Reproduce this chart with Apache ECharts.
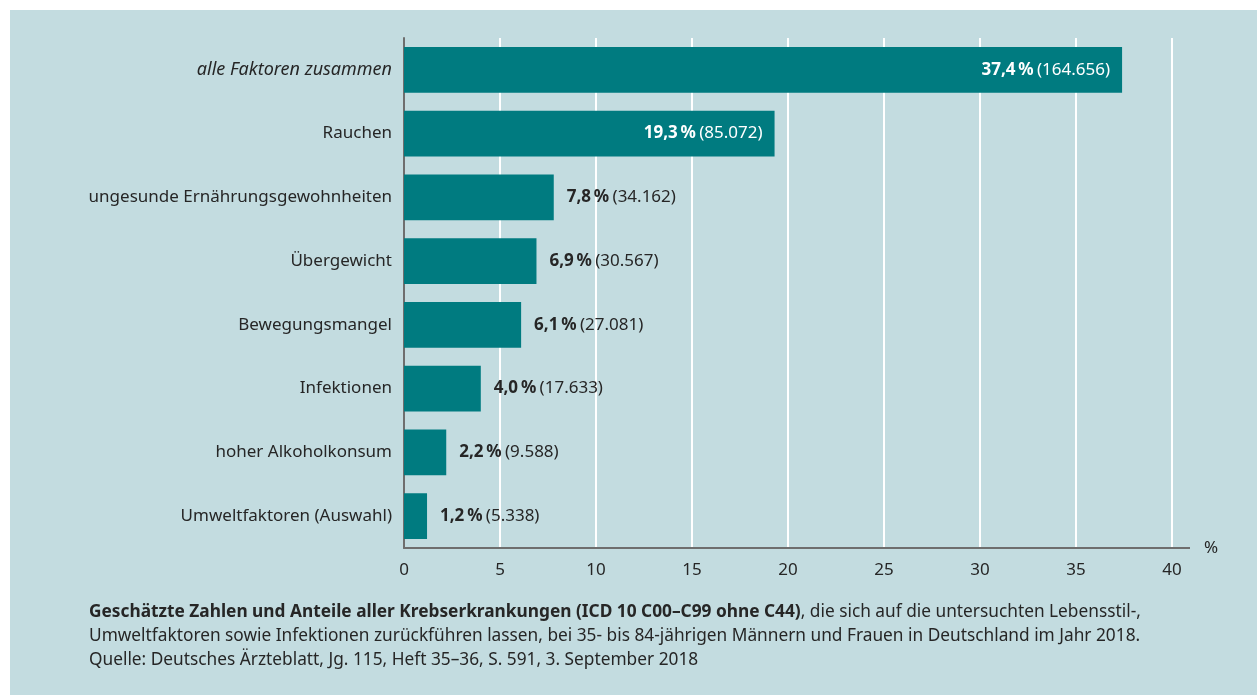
<!DOCTYPE html>
<html><head><meta charset="utf-8">
<script src="https://cdn.jsdelivr.net/npm/echarts@6/dist/echarts.min.js"></script>
<style>
html,body{margin:0;padding:0;background:#fff;}
#panel{position:absolute;left:10px;top:10px;width:1247px;height:685px;background:#c3dce0;}
#chart{position:absolute;left:0;top:0;width:1257px;height:695px;}
</style></head><body>
<div id="panel"></div>
<div id="chart"></div>
<script>
const categories = ['alle Faktoren zusammen','Rauchen','ungesunde Ernährungsgewohnheiten','Übergewicht','Bewegungsmangel','Infektionen','hoher Alkoholkonsum','Umweltfaktoren (Auswahl)'];
const percentValues = [37.4, 19.3, 7.8, 6.9, 6.1, 4.0, 2.2, 1.2];
const caseCounts = ['164.656','85.072','34.162','30.567','27.081','17.633','9.588','5.338'];
const xTicks = [0,5,10,15,20,25,30,35,40];

const FONT = 'Noto Sans';
const FS = 17;
const TXT = '#262626';
const BAR = '#007b80';

const chart = echarts.init(document.getElementById('chart'), null, {renderer:'canvas'});
const fmtPct = v => v.toFixed(1).replace('.', ',');

const data = percentValues.map((v,i) => {
  const inside = i < 2;
  return {
    value: v,
    label: {
      show: true,
      position: inside ? 'insideRight' : 'right',
      distance: inside ? 12 : 13,
      formatter: () => '{b|' + fmtPct(v) + '\u202F%} {n|(' + caseCounts[i] + ')}',
      rich: {
        b: {fontFamily: FONT, fontSize: FS, fontWeight: 'bold', color: inside ? '#fff' : TXT},
        n: {fontFamily: FONT, fontSize: FS, color: inside ? '#fff' : TXT}
      }
    }
  };
});

chart.setOption({
  animation: false,
  backgroundColor: 'transparent',
  grid: {left: 404, top: 38, right: 85, bottom: 147, containLabel: false},
  xAxis: {
    type: 'value', min: 0, max: 40, interval: 5,
    name: '%', nameLocation: 'end', nameGap: 32,
    nameTextStyle: {fontFamily: FONT, fontSize: FS, color: TXT, verticalAlign: 'middle', padding: [4,0,0,0]},
    axisLine: {show: true, lineStyle: {color: '#6e6e6e', width: 2}},
    axisTick: {show: false},
    axisLabel: {fontFamily: FONT, fontSize: FS, color: TXT, margin: 14,
      formatter: v => xTicks.includes(v) ? String(v) : ''},
    splitLine: {show: true, lineStyle: {color: '#ffffff', width: 2}}
  },
  yAxis: {
    type: 'category', data: categories, inverse: true,
    axisLine: {show: true, lineStyle: {color: '#6e6e6e', width: 2}},
    axisTick: {show: false},
    axisLabel: {fontFamily: FONT, fontSize: FS, color: TXT, margin: 12,
      formatter: (v, i) => i === 0 ? '{i|' + v + '}' : v,
      rich: {i: {fontFamily: FONT, fontSize: 18, fontStyle: 'italic', color: TXT}}}
  },
  series: [{
    type: 'bar', data: data, barWidth: '72%',
    itemStyle: {color: BAR}
  }],
  graphic: [
    {type: 'line', shape: {x1: 1172, y1: 548, x2: 1190, y2: 548}, style: {stroke: '#6e6e6e', lineWidth: 2}, z: 100},
    {type: 'text', left: 89, top: 600, style: {
      text: '{b|Geschätzte Zahlen und Anteile aller Krebserkrankungen (ICD 10 C00–C99 ohne C44)}, die sich auf die untersuchten Lebensstil-,\nUmweltfaktoren sowie Infektionen zurückführen lassen, bei 35- bis 84-jährigen Männern und Frauen in Deutschland im Jahr 2018.\nQuelle: Deutsches Ärzteblatt, Jg. 115, Heft 35–36, S. 591, 3. September 2018',
      fontFamily: FONT, fontSize: 17.3, fill: TXT, lineHeight: 24,
      rich: {b: {fontFamily: FONT, fontSize: 17.3, fontWeight: 'bold', fill: TXT, lineHeight: 24}}
    }}
  ]
});
</script></body></html>
